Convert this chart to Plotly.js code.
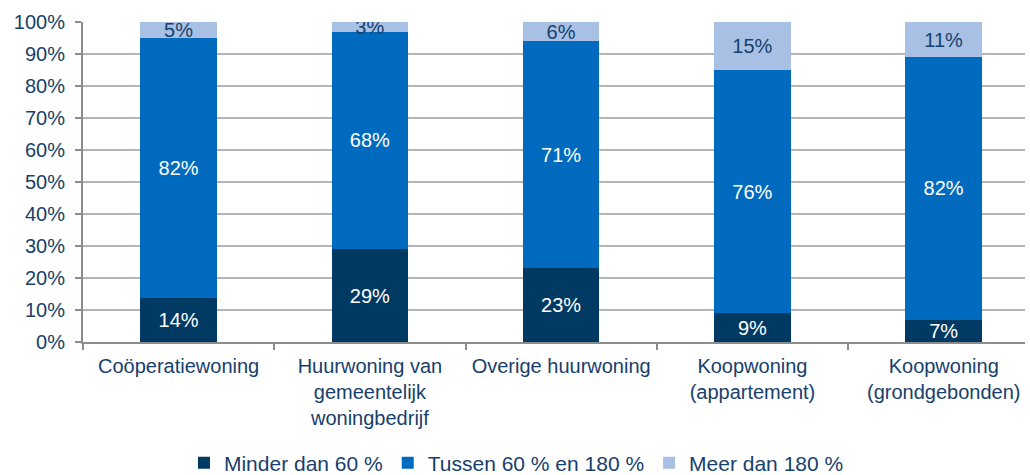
<!DOCTYPE html>
<html>
<head>
<meta charset="utf-8">
<script src="https://cdn.plot.ly/plotly-3.0.1.min.js"></script>
<style>html,body{margin:0;padding:0;background:#fff;}#chart{width:1030px;height:475px;}</style>
</head>
<body>
<div id="chart"></div>
<script>
const categories = ["Coöperatiewoning", "Huurwoning van<br>gemeentelijk<br>woningbedrijf", "Overige huurwoning", "Koopwoning<br>(appartement)", "Koopwoning<br>(grondgebonden)"];
const seriesNames = ["Minder dan 60 %", "Tussen 60 % en 180 %", "Meer dan 180 %"];
const minder = [14, 29, 23, 9, 7];
const tussen = [82, 68, 71, 76, 82];
const meer = [5, 3, 6, 15, 11];
const yTicks = [0, 10, 20, 30, 40, 50, 60, 70, 80, 90, 100];

const colors = ["#003A63", "#006BBE", "#A7C0E3"];
const textColors = ["#ffffff", "#ffffff", "#17406D"];
const FONT = "Liberation Sans, Arial, sans-serif";
const TXT = "#17406D";

const traces = [minder, tussen, meer].map((vals, i) => ({
  type: "bar",
  name: seriesNames[i],
  x: categories,
  y: vals,
  text: vals.map(v => v + "%"),
  textposition: "inside",
  insidetextanchor: "middle",
  textangle: 0,
  constraintext: "none",
  textfont: {family: FONT, size: 20, color: textColors[i]},
  marker: {color: colors[i], line: {width: 0}},
  hoverinfo: "skip"
}));

const layout = {
  width: 1030, height: 475,
  margin: {l: 83, r: 5, t: 22, b: 133},
  paper_bgcolor: "#fff", plot_bgcolor: "#fff",
  barmode: "stack",
  barnorm: "percent",
  bargap: 0.6,
  font: {family: FONT, size: 20, color: TXT},
  showlegend: true,
  legend: {
    orientation: "h",
    xref: "container", yref: "container",
    x: 0.1786, xanchor: "left", y: 0.025, yanchor: "middle",
    font: {family: FONT, size: 21, color: TXT}, traceorder: "normal"
  },
  xaxis: {
    type: "category",
    range: [-0.5, 4.425],
    automargin: false,
    showline: true, linecolor: "#8C8C8C", linewidth: 2,
    ticks: "outside", tickson: "boundaries", ticklen: 6, tickcolor: "#8C8C8C", tickwidth: 2,
    ticklabelstandoff: 5,
    showgrid: false, fixedrange: true,
    tickfont: {family: FONT, size: 20, color: TXT}
  },
  yaxis: {
    range: [0, 100],
    automargin: false,
    tickvals: yTicks,
    ticktext: yTicks.map(v => v + "%"),
    showline: true, linecolor: "#8C8C8C", linewidth: 2,
    ticks: "outside", ticklen: 6, tickcolor: "#8C8C8C", tickwidth: 2,
    showgrid: true, gridcolor: "#B4B4B4", gridwidth: 1.5,
    zeroline: false, fixedrange: true,
    ticklabelstandoff: 6,
    tickfont: {family: FONT, size: 20, color: TXT}
  }
};

Plotly.newPlot("chart", traces, layout, {displayModeBar: false, staticPlot: true});
</script>
</body>
</html>
